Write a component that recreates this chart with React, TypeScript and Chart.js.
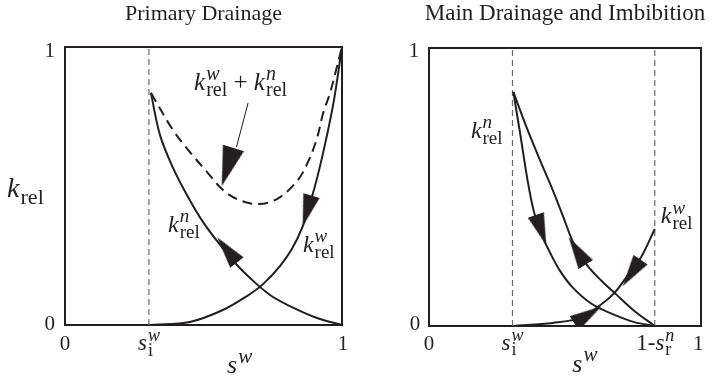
import React, { useEffect, useRef } from 'react';
import { Chart, registerables } from 'chart.js';

Chart.register(...registerables);

const SERIF = '"Liberation Serif", "Times New Roman", serif';
const INK = '#231f20';
const GUIDE = '#6a6a6a';

// ---------- Primary Drainage (left panel) ----------
const pdTitle = 'Primary Drainage';
const pdSwi = 0.303;
const pdKnS = [0.31, 0.343, 0.39, 0.44, 0.498, 0.56, 0.614, 0.668, 0.74, 0.812, 0.91, 1];
const pdKnK = [0.835, 0.683, 0.565, 0.468, 0.371, 0.288, 0.223, 0.169, 0.108, 0.068, 0.025, 0];
const pdKwS = [0.31, 0.451, 0.57, 0.657, 0.715, 0.776, 0.819, 0.856, 0.884, 0.913, 0.942, 0.971, 1];
const pdKwK = [0, 0.011, 0.054, 0.104, 0.147, 0.212, 0.273, 0.349, 0.435, 0.54, 0.665, 0.809, 1];
const pdSumS = [0.31, 0.39, 0.451, 0.513, 0.567, 0.621, 0.693, 0.765, 0.838, 0.877, 0.91, 0.931, 0.957, 0.975, 1];
const pdSumK = [0.835, 0.701, 0.622, 0.55, 0.489, 0.453, 0.435, 0.453, 0.518, 0.586, 0.673, 0.759, 0.835, 0.903, 1];
const pdArrowS = [0.587, 0.874, 0.585];
const pdArrowK = [0.568, 0.41, 0.27];
const pdArrowDeg = [107, 106, -128];
const pdLeaderS = [0.661, 0.619];
const pdLeaderK = [0.799, 0.64];

// ---------- Main Drainage and Imbibition (right panel) ----------
const mdTitle = 'Main Drainage and Imbibition';
const mdSwi = 0.307;
const mdOneMinusSnr = 0.83;
const mdDrainS = [0.31, 0.336, 0.361, 0.386, 0.415, 0.444, 0.48, 0.527, 0.599, 0.682, 0.755, 0.83];
const mdDrainK = [0.842, 0.687, 0.532, 0.41, 0.327, 0.266, 0.201, 0.14, 0.079, 0.04, 0.014, 0];
const mdImbS = [0.31, 0.357, 0.408, 0.455, 0.495, 0.531, 0.581, 0.635, 0.69, 0.755, 0.83];
const mdImbK = [0.842, 0.719, 0.597, 0.489, 0.389, 0.299, 0.219, 0.162, 0.112, 0.054, 0];
const mdKwS = [0.31, 0.455, 0.556, 0.635, 0.682, 0.726, 0.78, 0.83];
const mdKwK = [0, 0.011, 0.029, 0.079, 0.119, 0.176, 0.248, 0.349];
const mdArrowS = [0.412, 0.545, 0.584, 0.745];
const mdArrowK = [0.345, 0.27, 0.04, 0.191];
const mdArrowDeg = [71, -122, -32, 124];

type Piece = { t: string; it?: boolean; sup?: string; sub?: string };
type Label = { s: number; k: number; parts: Piece[]; size: number; align: 'left' | 'center' | 'right' };

const KN: Piece = { t: 'k', it: true, sup: 'n', sub: 'rel' };
const KW: Piece = { t: 'k', it: true, sup: 'w', sub: 'rel' };
const SWI: Piece = { t: 's', it: true, sup: 'w', sub: 'i' };

function drawMath(ctx: CanvasRenderingContext2D, x: number, y: number, pieces: Piece[], size: number, align: string) {
  const ss = Math.round(size * 0.8);
  const fMain = (it?: boolean) => `${it ? 'italic ' : ''}${size}px ${SERIF}`;
  const fSup = `italic ${ss}px ${SERIF}`;
  const fSub = `${ss}px ${SERIF}`;
  const widths = pieces.map((p) => {
    ctx.font = fMain(p.it);
    const w = ctx.measureText(p.t).width + (p.it && (p.sup || p.sub) ? 1 : 0);
    let sw = 0;
    if (p.sup) { ctx.font = fSup; sw = Math.max(sw, ctx.measureText(p.sup).width); }
    if (p.sub) { ctx.font = fSub; sw = Math.max(sw, ctx.measureText(p.sub).width); }
    return [w, sw];
  });
  const total = widths.reduce((a, [w, sw]) => a + w + sw, 0);
  let cx = align === 'left' ? x : align === 'center' ? x - total / 2 : x - total;
  ctx.textBaseline = 'alphabetic';
  ctx.textAlign = 'left';
  ctx.fillStyle = INK;
  pieces.forEach((p, i) => {
    const [w, sw] = widths[i];
    ctx.font = fMain(p.it);
    ctx.fillText(p.t, cx, y);
    cx += w;
    if (p.sup) { ctx.font = fSup; ctx.fillText(p.sup, cx, y - size * 0.4); }
    if (p.sub) { ctx.font = fSub; ctx.fillText(p.sub, cx, y + size * 0.24); }
    cx += sw;
  });
}

function textPlugin(title: string, titleSize: number, labels: Label[]) {
  return {
    id: 'mathText',
    afterDraw(chart: any) {
      const { ctx, chartArea } = chart;
      const xs = chart.scales.x;
      const ys = chart.scales.y;
      ctx.save();
      ctx.fillStyle = INK;
      ctx.font = `${titleSize}px ${SERIF}`;
      ctx.textAlign = 'center';
      ctx.textBaseline = 'alphabetic';
      ctx.fillText(title, (chartArea.left + chartArea.right) / 2, 20);
      for (const lab of labels) {
        drawMath(ctx, xs.getPixelForValue(lab.s), ys.getPixelForValue(lab.k), lab.parts, lab.size, lab.align);
      }
      ctx.restore();
    },
  };
}

function makeArrow(len: number, wid: number) {
  const c = document.createElement('canvas');
  c.width = len;
  c.height = wid;
  const g = c.getContext('2d')!;
  g.fillStyle = INK;
  g.beginPath();
  g.moveTo(0, 0);
  g.lineTo(len, wid / 2);
  g.lineTo(0, wid);
  g.closePath();
  g.fill();
  return c;
}

const pts = (xs: number[], ys: number[]) => xs.map((x, i) => ({ x, y: ys[i] }));

function curve(xs: number[], ys: number[], extra: any = {}) {
  return {
    data: pts(xs, ys),
    showLine: true,
    borderColor: INK,
    borderWidth: 2,
    pointRadius: 0,
    tension: 0.35,
    order: 1,
    clip: false,
    ...extra,
  };
}

function guide(s: number) {
  return {
    data: [{ x: s, y: 0 }, { x: s, y: 1 }],
    showLine: true,
    borderColor: GUIDE,
    borderWidth: 1.2,
    borderDash: [6, 4],
    pointRadius: 0,
    order: 2,
  };
}

function axis(pos: string, size: number) {
  return {
    type: 'linear',
    position: pos,
    min: 0,
    max: 1,
    ticks: { display: false },
    grid: { display: false, drawTicks: false },
    border: { display: true, color: INK, width: 2 },
    afterFit: (s: any) => {
      if (pos === 'left' || pos === 'right') s.width = size;
      else s.height = size;
    },
  };
}

function baseOptions(l: number, r: number, t: number, b: number) {
  return {
    responsive: false,
    animation: false,
    events: [],
    layout: { padding: 0 },
    plugins: { legend: { display: false }, tooltip: { enabled: false } },
    scales: { x: axis('bottom', b), x2: axis('top', t), y: axis('left', l), y2: axis('right', r) },
  };
}

export default function App() {
  const leftRef = useRef<HTMLCanvasElement>(null);
  const rightRef = useRef<HTMLCanvasElement>(null);

  useEffect(() => {
    document.body.style.margin = '0';
    const arrow = makeArrow(32, 17);
    const bigArrow = makeArrow(40, 22);

    const leftLabels: Label[] = [
      { s: 0.466, k: 0.845, parts: [KW, { t: ' + ' }, KN], size: 25, align: 'left' },
      { s: 0.372, k: 0.335, parts: [KN], size: 24, align: 'left' },
      { s: 0.859, k: 0.263, parts: [KW], size: 24, align: 'left' },
      { s: -0.036, k: 0.964, parts: [{ t: '1' }], size: 21, align: 'right' },
      { s: -0.036, k: -0.018, parts: [{ t: '0' }], size: 21, align: 'right' },
      { s: 0, k: -0.09, parts: [{ t: '0' }], size: 21, align: 'center' },
      { s: 1.004, k: -0.09, parts: [{ t: '1' }], size: 21, align: 'center' },
      { s: pdSwi, k: -0.09, parts: [SWI], size: 23, align: 'center' },
      { s: 0.585, k: -0.173, parts: [{ t: 's', it: true, sup: 'w' }], size: 26, align: 'left' },
      { s: -0.209, k: 0.46, parts: [{ t: 'k', it: true, sub: 'rel' }], size: 28, align: 'left' },
    ];
    const rightLabels: Label[] = [
      { s: 0.154, k: 0.676, parts: [KN], size: 24, align: 'left' },
      { s: 0.852, k: 0.37, parts: [KW], size: 24, align: 'left' },
      { s: -0.036, k: 0.968, parts: [{ t: '1' }], size: 21, align: 'right' },
      { s: -0.032, k: -0.014, parts: [{ t: '0' }], size: 21, align: 'right' },
      { s: 0, k: -0.086, parts: [{ t: '0' }], size: 21, align: 'center' },
      { s: 0.99, k: -0.086, parts: [{ t: '1' }], size: 21, align: 'center' },
      { s: mdSwi, k: -0.086, parts: [SWI], size: 23, align: 'center' },
      { s: 0.762, k: -0.086, parts: [{ t: '1-' }, { t: 's', it: true, sup: 'n', sub: 'r' }], size: 23, align: 'left' },
      { s: 0.527, k: -0.165, parts: [{ t: 's', it: true, sup: 'w' }], size: 26, align: 'left' },
    ];

    const c1 = new Chart(leftRef.current as HTMLCanvasElement, {
      type: 'scatter',
      data: {
        datasets: [
          {
            data: pts(pdArrowS, pdArrowK),
            showLine: false,
            pointStyle: [bigArrow, arrow, arrow],
            pointRotation: pdArrowDeg,
            pointRadius: 10,
            order: 0,
          },
          curve(pdKnS, pdKnK),
          curve(pdKwS, pdKwK),
          curve(pdSumS, pdSumK, { borderDash: [10, 6] }),
          curve(pdLeaderS, pdLeaderK, { borderWidth: 1, tension: 0 }),
          guide(pdSwi),
        ],
      } as any,
      options: baseOptions(65, 14, 47, 53) as any,
      plugins: [textPlugin(pdTitle, 22, leftLabels) as any],
    });

    const c2 = new Chart(rightRef.current as HTMLCanvasElement, {
      type: 'scatter',
      data: {
        datasets: [
          {
            data: pts(mdArrowS, mdArrowK),
            showLine: false,
            pointStyle: [arrow, arrow, arrow, arrow],
            pointRotation: mdArrowDeg,
            pointRadius: 10,
            order: 0,
          },
          curve(mdDrainS, mdDrainK),
          curve(mdImbS, mdImbK),
          curve(mdKwS, mdKwK),
          guide(mdSwi),
          guide(mdOneMinusSnr),
        ],
      } as any,
      options: baseOptions(73, 6, 48, 52) as any,
      plugins: [textPlugin(mdTitle, 23, rightLabels) as any],
    });

    return () => {
      c1.destroy();
      c2.destroy();
    };
  }, []);

  return (
    <div style={{ display: 'flex', width: 712, height: 378, background: '#fff' }}>
      <canvas ref={leftRef} width={356} height={378} style={{ display: 'block' }} />
      <canvas ref={rightRef} width={356} height={378} style={{ display: 'block' }} />
    </div>
  );
}
